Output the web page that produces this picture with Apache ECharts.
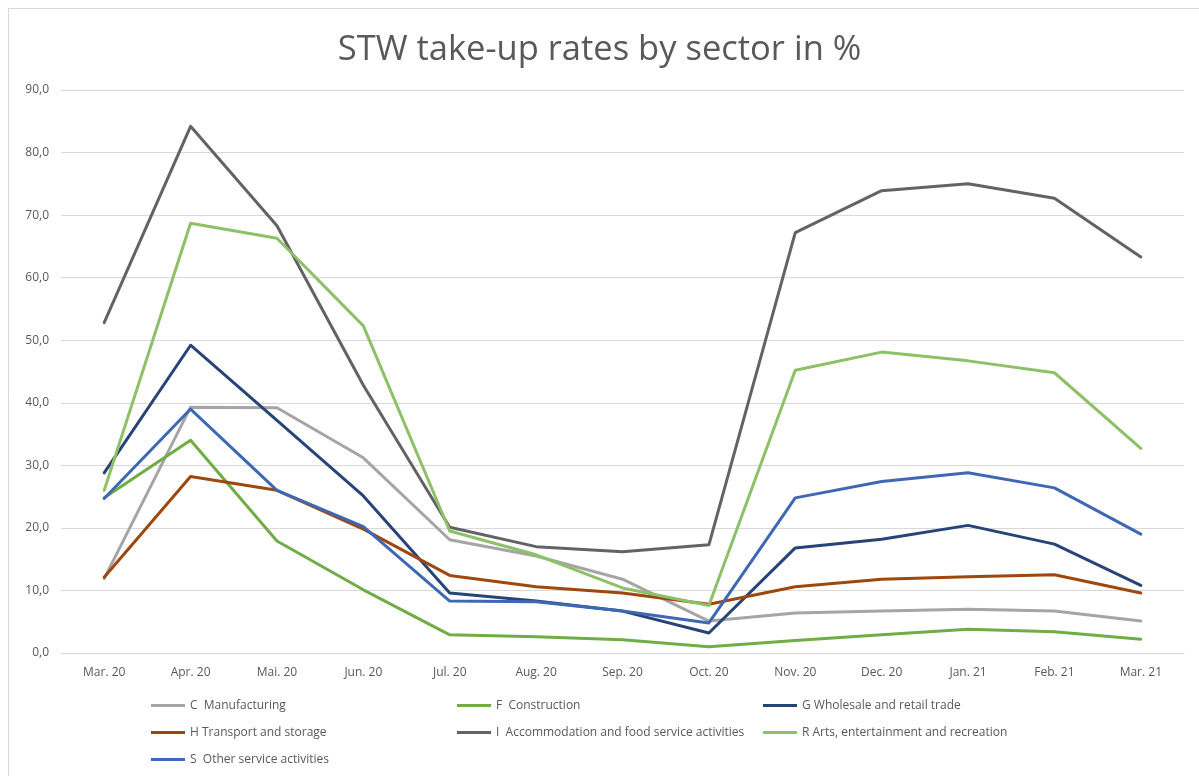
<!DOCTYPE html>
<html>
<head>
<meta charset="utf-8">
<title>STW take-up rates by sector</title>
<script src="https://cdn.jsdelivr.net/npm/echarts@6/dist/echarts.min.js"></script>
<style>
    html, body {
        margin: 0;
        padding: 0;
        background: #ffffff;
    }

    #main {
        width: 1199px;
        height: 776px;
    }
</style>
</head>
<body>
<div id="main"></div>
<script>
    // 月份
    var months = ['Mar. 20', 'Apr. 20', 'Mai. 20', 'Jun. 20', 'Jul. 20', 'Aug. 20', 'Sep. 20',
        'Oct. 20', 'Nov. 20', 'Dec. 20', 'Jan. 21', 'Feb. 21', 'Mar. 21'];

    var yTicks = [0, 10, 20, 30, 40, 50, 60, 70, 80, 90];

    // 各行业数值 (%)
    var manufacturing = [11.9, 39.3, 39.2, 31.2, 18.1, 15.5, 11.8, 5.1, 6.4, 6.7, 7.0, 6.7, 5.1];
    var construction = [24.8, 34.0, 17.9, 10.1, 2.9, 2.6, 2.1, 1.0, 2.0, 2.9, 3.8, 3.4, 2.2];
    var wholesale = [28.8, 49.2, 37.2, 25.1, 9.6, 8.3, 6.7, 3.2, 16.8, 18.2, 20.4, 17.4, 10.8];
    var transport = [12.1, 28.2, 26.0, 19.8, 12.4, 10.6, 9.6, 7.8, 10.6, 11.8, 12.2, 12.5, 9.6];
    var accommodation = [52.8, 84.2, 68.3, 42.8, 20.1, 17.0, 16.2, 17.3, 67.2, 73.9, 75.0, 72.7, 63.3];
    var arts = [26.0, 68.7, 66.3, 52.3, 19.5, 15.7, 10.4, 7.6, 45.2, 48.1, 46.7, 44.8, 32.7];
    var otherServices = [24.7, 39.0, 26.0, 20.2, 8.3, 8.2, 6.7, 4.8, 24.8, 27.4, 28.8, 26.4, 19.0];

    var seriesNames = [
        'C  Manufacturing',
        'F  Construction',
        'G Wholesale and retail trade',
        'H Transport and storage',
        'I  Accommodation and food service activities',
        'R Arts, entertainment and recreation',
        'S  Other service activities'
    ];
    var seriesData = [manufacturing, construction, wholesale, transport, accommodation, arts, otherServices];
    var colors = ['#a5a5a5', '#70ad47', '#264478', '#9e480e', '#636363', '#8cc168', '#3f68b4'];

    var font = '"Open Sans", "Noto Sans", sans-serif';
    var textGray = '#595959';

    var myChart = echarts.init(document.getElementById('main'));

    var series = seriesNames.map(function (name, i) {
        return {
            name: name,
            type: 'line',
            data: seriesData[i],
            symbol: 'none',
            lineStyle: {width: 3, color: colors[i], cap: 'round', join: 'round'},
            itemStyle: {color: colors[i]}
        };
    });

    var option = {
        animation: false,
        backgroundColor: '#ffffff',
        color: colors,
        title: {
            text: 'STW take-up rates by sector in %',
            left: 'center',
            top: 33,
            padding: 0,
            textStyle: {fontFamily: font, fontSize: 34.5, fontWeight: 'normal', color: textGray}
        },
        graphic: [{
            type: 'rect',
            shape: {x: 8.5, y: 8.5, width: 1200, height: 800},
            style: {fill: 'none', stroke: '#d9d9d9', lineWidth: 1},
            silent: true
        }],
        grid: {left: 61, right: 15, top: 90, bottom: 123},
        legend: {
            data: seriesNames,
            left: 151,
            top: 693,
            padding: 0,
            width: 960,
            itemWidth: 34,
            itemHeight: 3,
            itemGap: 2,
            icon: 'rect',
            textStyle: {fontFamily: font, fontSize: 12, color: textGray, width: 265, lineHeight: 25}
        },
        xAxis: {
            type: 'category',
            data: months,
            boundaryGap: true,
            axisLine: {lineStyle: {color: '#d9d9d9', width: 1}},
            axisTick: {show: false},
            axisLabel: {fontFamily: font, fontSize: 12, color: textGray, margin: 14}
        },
        yAxis: {
            type: 'value',
            min: yTicks[0],
            max: yTicks[yTicks.length - 1],
            interval: 10,
            axisLine: {show: false},
            axisTick: {show: false},
            splitLine: {lineStyle: {color: '#d9d9d9', width: 1}},
            axisLabel: {
                fontFamily: font, fontSize: 12, color: textGray, margin: 12,
                formatter: function (v) {
                    return v.toFixed(1).replace('.', ',');
                }
            }
        },
        series: series
    };

    myChart.setOption(option);
</script>
</body>
</html>
